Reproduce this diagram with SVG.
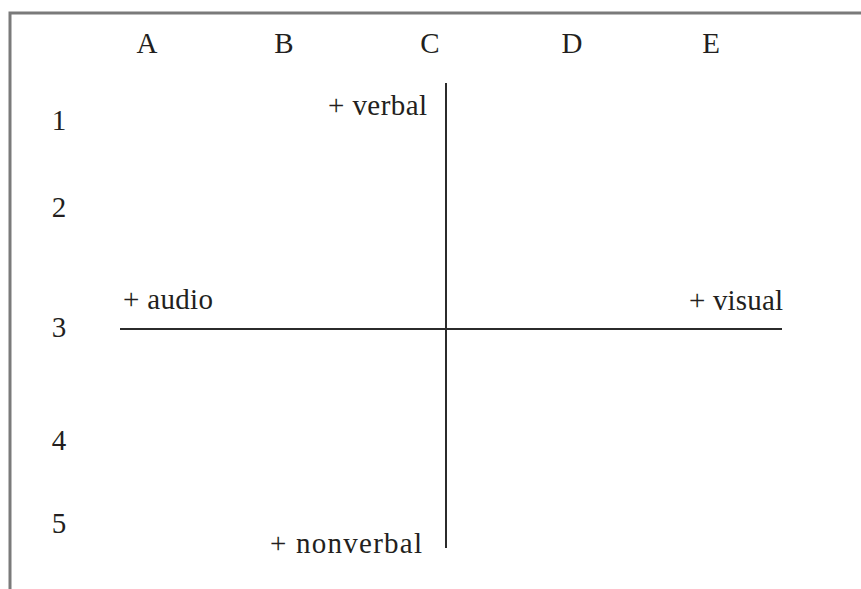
<svg xmlns="http://www.w3.org/2000/svg" width="861" height="589" viewBox="0 0 861 589">
<style>
text{font-family:"Liberation Serif","Times New Roman",serif;font-size:29px;fill:#231f20}
.m{text-anchor:middle}
.ax{stroke:#2b2b2b;stroke-width:2;fill:none}
</style>
<rect x="0" y="0" width="861" height="589" fill="#fff"/>
<rect id="frame" x="10" y="13" width="900" height="700" fill="none" stroke="#7a7a7a" stroke-width="3"/>
<g id="columns">
<text class="m" x="147" y="53">A</text>
<text class="m" x="284" y="53">B</text>
<text class="m" x="430" y="53">C</text>
<text class="m" x="572" y="53">D</text>
<text class="m" x="711" y="53">E</text>
</g>
<g id="rows">
<text class="m" x="59" y="130">1</text>
<text class="m" x="59" y="217">2</text>
<text class="m" x="59" y="337">3</text>
<text class="m" x="59" y="450">4</text>
<text class="m" x="59" y="533">5</text>
</g>
<g id="connectors">
<line class="ax" x1="446" y1="83" x2="446" y2="548"/>
<line class="ax" x1="120" y1="329" x2="782" y2="329"/>
</g>
<g id="verbal"><text x="328" y="115" textLength="99">+ verbal</text></g>
<g id="audio"><text x="123" y="309" textLength="90">+ audio</text></g>
<g id="visual"><text x="689" y="310" textLength="94">+ visual</text></g>
<g id="nonverbal"><text x="270" y="553" textLength="152">+ nonverbal</text></g>
</svg>
